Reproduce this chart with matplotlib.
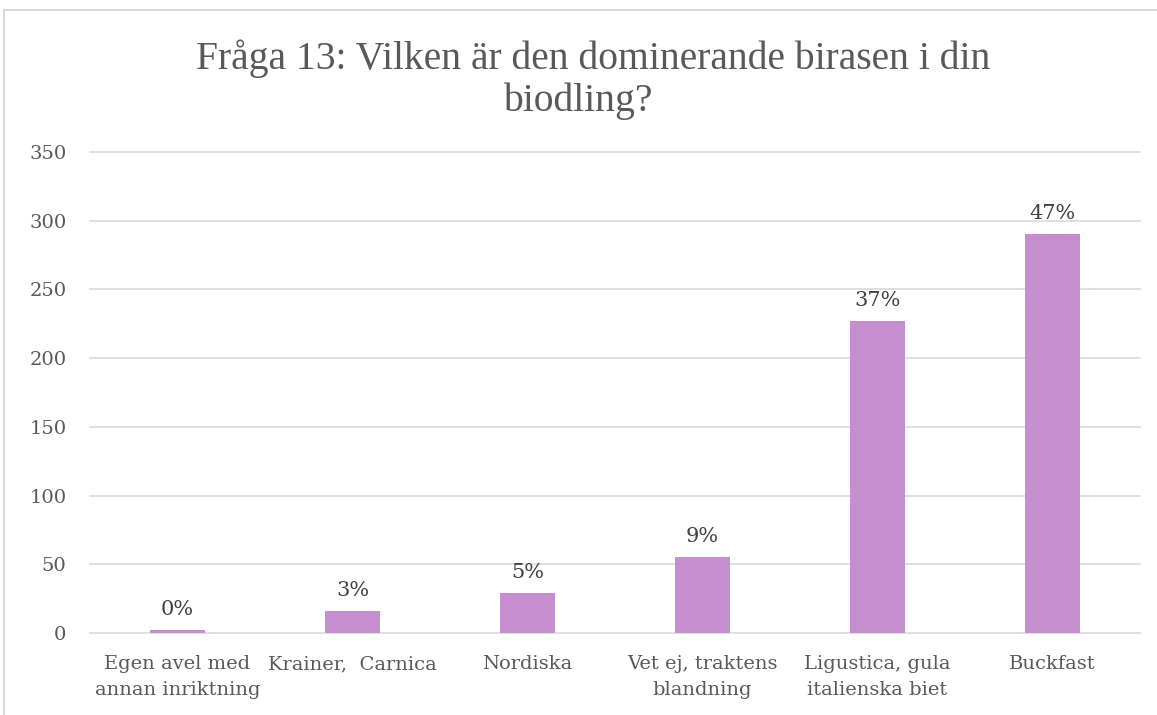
import matplotlib.pyplot as plt
from matplotlib.patches import Rectangle

categories = [
    "Egen avel med\nannan inriktning",
    "Krainer,  Carnica",
    "Nordiska",
    "Vet ej, traktens\nblandning",
    "Ligustica, gula\nitalienska biet",
    "Buckfast",
]
counts = [2, 16, 29, 55, 227, 290]
pct_labels = ["0%", "3%", "5%", "9%", "37%", "47%"]
yticks = [0, 50, 100, 150, 200, 250, 300, 350]
title_lines = ["Fråga 13: Vilken är den dominerande birasen i din", "biodling?"]

text_color = "#595959"
bar_color = "#C58FCF"
grid_color = "#D9D9D9"


def main():
    fig = plt.figure(figsize=(11.57, 7.15), dpi=100)
    ax = fig.add_axes([0.0778, 0.1147, 0.9075, 0.6727])

    x = list(range(len(categories)))
    bars = ax.bar(x, counts, width=0.31, color=bar_color, zorder=3)

    for b, lab in zip(bars, pct_labels):
        ax.annotate(lab, (b.get_x() + b.get_width() / 2, b.get_height()),
                    xytext=(0, 8), textcoords="offset points",
                    ha="center", va="bottom", fontsize=15,
                    family="DejaVu Serif", color="#404040")

    ax.set_xlim(-0.5, len(categories) - 0.5)
    ax.set_ylim(0, 350)
    ax.set_yticks(yticks)
    ax.set_xticks(x)
    ax.set_xticklabels(categories, family="DejaVu Serif", fontsize=14,
                       color=text_color, linespacing=1.55, va="top")
    for t in ax.get_yticklabels():
        t.set_family("DejaVu Serif")
        t.set_fontsize(14)
        t.set_color(text_color)

    ax.grid(axis="y", color=grid_color, linewidth=1.2, zorder=0)
    for gl in ax.get_ygridlines():
        gl.set_clip_on(False)
    ax.tick_params(length=0)
    ax.tick_params(axis="y", pad=17)
    ax.tick_params(axis="x", pad=16)
    for s in ax.spines.values():
        s.set_visible(False)

    # title wraps like Excel: first line sits a bit right of centre
    fig.text(0.5125, 0.918, title_lines[0], ha="center", va="center",
             fontsize=28.5, family="Liberation Serif", color=text_color)
    fig.text(0.4996, 0.858, title_lines[1], ha="center", va="center",
             fontsize=28.5, family="Liberation Serif", color=text_color)

    border = Rectangle((0.0035, -0.01), 1.0, 0.996, transform=fig.transFigure,
                       fill=False, edgecolor=grid_color, linewidth=1.5)
    fig.add_artist(border)

    fig.savefig("out.png", dpi=100)


if __name__ == "__main__":
    main()
